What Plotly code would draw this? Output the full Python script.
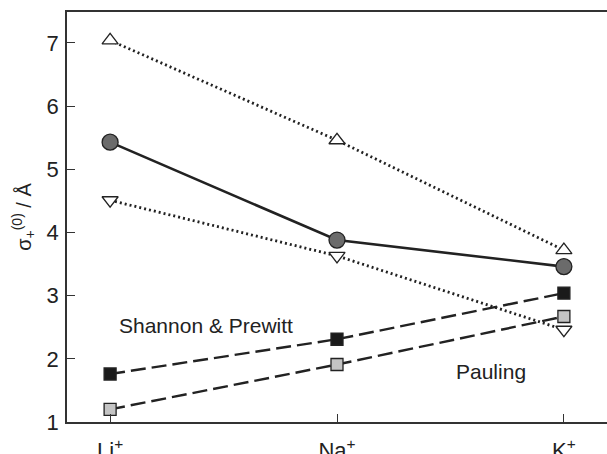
import plotly.graph_objects as go

ions = ["Li<sup>+</sup>", "Na<sup>+</sup>", "K<sup>+</sup>"]
x_pos = [0, 1, 2]
tri_up = [7.04, 5.46, 3.72]
circle = [5.43, 3.88, 3.46]
tri_down = [4.51, 3.63, 2.46]
shannon = [1.76, 2.31, 3.04]
pauling = [1.20, 1.91, 2.67]
y_ticks = [1, 2, 3, 4, 5, 6, 7]

FONT = "Liberation Sans, Arial, sans-serif"
INK = "#222222"

fig = go.Figure()

def add(y, dash, symbol, fill, size, width=2.2):
    fig.add_trace(go.Scatter(
        x=x_pos, y=y, mode="lines+markers",
        line=dict(color=INK, width=width, dash=dash),
        marker=dict(symbol=symbol, size=size, color=fill,
                    line=dict(color=INK, width=1.3)),
        showlegend=False, cliponaxis=False))

add(tri_up, "2px,3px", "triangle-up", "white", 14, 2.8)
add(tri_down, "2px,3px", "triangle-down", "white", 14, 2.8)
add(shannon, "15px,6px", "square", "#1a1a1a", 12, 2.4)
add(pauling, "15px,6px", "square", "#c4c4c4", 12, 2.4)
add(circle, "solid", "circle", "#6b6b6b", 16, 2.6)

fig.add_annotation(x=-0.19 + (117 - 67) / 227, y=2.52, xref="x", yref="y",
                   text="Shannon &amp; Prewitt", showarrow=False, xanchor="left",
                   font=dict(family=FONT, size=21, color=INK))
fig.add_annotation(x=-0.19 + (454 - 67) / 227, y=1.8, xref="x", yref="y",
                   text="Pauling", showarrow=False, xanchor="left",
                   font=dict(family=FONT, size=21, color=INK))

fig.update_layout(
    width=607, height=454,
    margin=dict(l=67, r=0, t=12, b=32),
    paper_bgcolor="white", plot_bgcolor="white",
    font=dict(family=FONT, size=21, color=INK),
    xaxis=dict(range=[-0.19, 2.19], tickvals=x_pos, ticktext=ions,
               ticks="inside", ticklen=8, tickwidth=1.3, tickcolor="#333",
               showline=True, linecolor="#333", linewidth=1.5, mirror=True,
               showgrid=False, zeroline=False, ticklabelstandoff=8,
               automargin=False,
               tickfont=dict(family=FONT, size=22, color=INK)),
    yaxis=dict(range=[1, 7.49], tickvals=y_ticks,
               ticks="inside", ticklen=8, tickwidth=1.3, tickcolor="#333",
               showline=True, linecolor="#333", linewidth=1.5, mirror=False,
               showgrid=False, zeroline=False, ticklabelstandoff=2,
               automargin=False,
               tickfont=dict(family=FONT, size=22, color=INK),
               title=dict(text="σ<sub>+</sub><sup>(0)</sup> / Å", standoff=10,
                          font=dict(family=FONT, size=20, color=INK))),
)

fig.write_html("out.html")
